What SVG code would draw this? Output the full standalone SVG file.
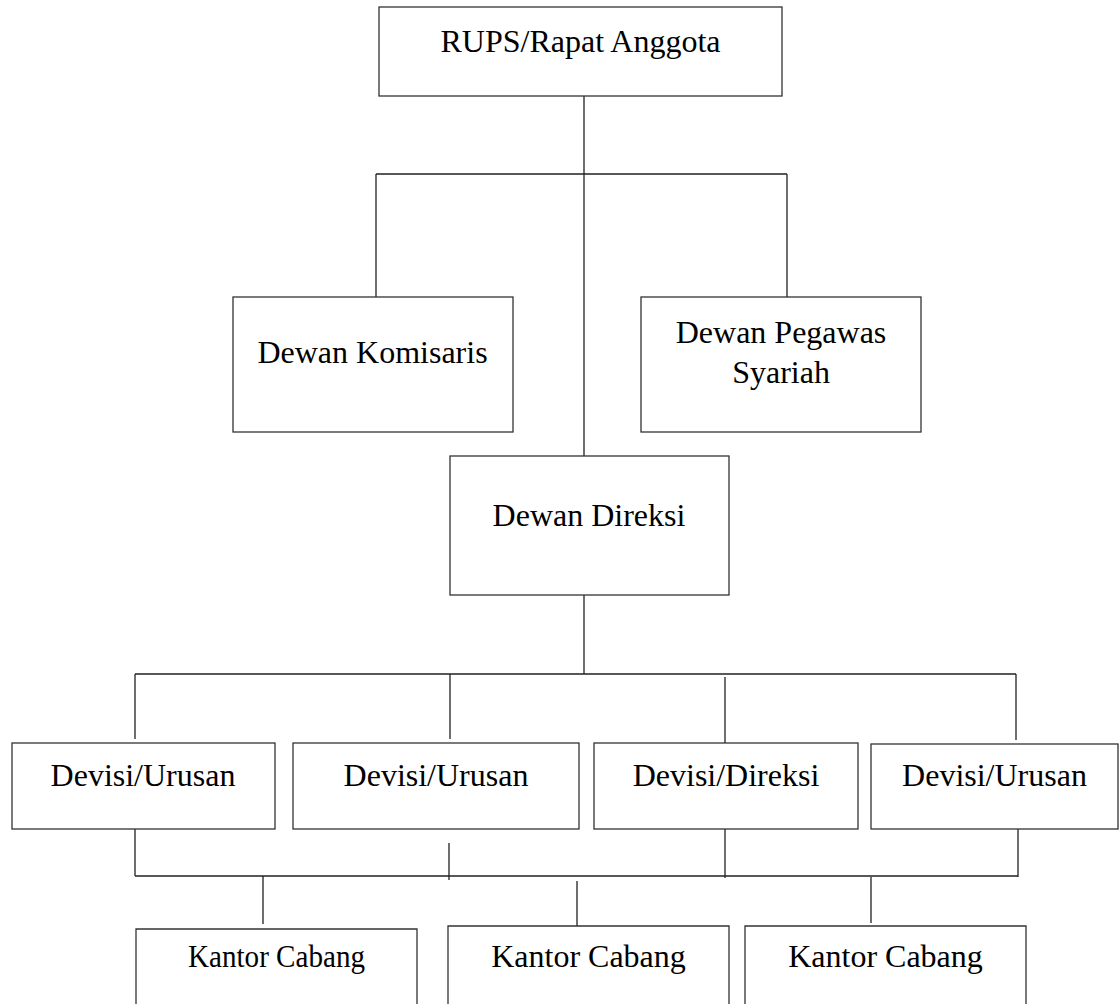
<svg xmlns="http://www.w3.org/2000/svg" width="1119" height="1004" viewBox="0 0 1119 1004">
<style>
.box{fill:#fff;stroke:#333;stroke-width:1.3}
.ln{fill:none;stroke:#222;stroke-width:1.3}
.t{font-family:"Liberation Serif","Times New Roman",serif;font-size:32px;fill:#000;text-anchor:middle}
</style>
<rect width="1119" height="1004" fill="#fff"/>
<g id="connectors">
<path class="ln" d="M584 96V456M376 174H787M376 174V297M787 174V297"/>
<path class="ln" d="M584 595V674M135 674H1016M135 674V739M450 674V739M725 677V743M1016 674V740"/>
<path class="ln" d="M135 829V876M449 843V880M725 829V878M1018 829V877M135 876H1018"/>
<path class="ln" d="M263 876V924M577 881V928M871 877V923"/>
</g>
<g id="rups"><rect class="box" x="379" y="7" width="403" height="89"/><text class="t" x="580.5" y="52" font-size="31">RUPS/Rapat Anggota</text></g>
<g id="komisaris"><rect class="box" x="233" y="297" width="280" height="135"/><text class="t" x="372.5" y="363">Dewan Komisaris</text></g>
<g id="syariah"><rect class="box" x="641" y="297" width="280" height="135"/><text class="t" x="781" y="343">Dewan Pegawas</text><text class="t" x="781" y="383">Syariah</text></g>
<g id="direksi"><rect class="box" x="450" y="456" width="279" height="139"/><text class="t" x="589" y="526">Dewan Direksi</text></g>
<g id="devisi1"><rect class="box" x="12" y="743" width="263" height="86"/><text class="t" x="143" y="786">Devisi/Urusan</text></g>
<g id="devisi2"><rect class="box" x="293" y="743" width="286" height="86"/><text class="t" x="436" y="786">Devisi/Urusan</text></g>
<g id="devisi3"><rect class="box" x="594" y="743" width="264" height="86"/><text class="t" x="726" y="786">Devisi/Direksi</text></g>
<g id="devisi4"><rect class="box" x="871" y="744" width="247" height="85"/><text class="t" x="994.5" y="786">Devisi/Urusan</text></g>
<g id="kantor1"><path class="box" d="M136 1005V929H417V1005"/><text class="t" x="276.5" y="967" font-size="27" textLength="177" lengthAdjust="spacingAndGlyphs">Kantor Cabang</text></g>
<g id="kantor2"><path class="box" d="M448 1005V926H729V1005"/><text class="t" x="588.5" y="967">Kantor Cabang</text></g>
<g id="kantor3"><path class="box" d="M745 1005V926H1026V1005"/><text class="t" x="885.5" y="967">Kantor Cabang</text></g>
</svg>
